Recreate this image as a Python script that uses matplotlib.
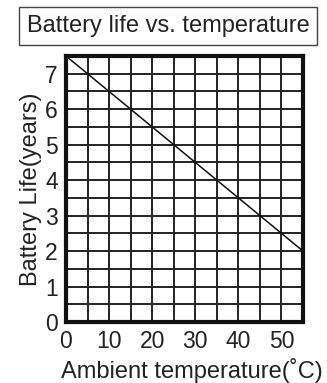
import matplotlib
matplotlib.use("Agg")
import matplotlib.pyplot as plt
import numpy as np

plt.rcParams['font.family'] = ['Liberation Sans', 'DejaVu Sans']

# Battery life as a function of ambient temperature
temperature = [0, 55]
battery_life = [7.5, 2.0]

x_ticks = [0, 10, 20, 30, 40, 50]
y_ticks = [0, 1, 2, 3, 4, 5, 6, 7]

W, H = 327, 383
fig = plt.figure(figsize=(W / 100, H / 100), dpi=100)
ax = fig.add_axes([66 / W, 1 - 322 / H, (303 - 66) / W, (322 - 56) / H])

ax.plot(temperature, battery_life, color='#111111', lw=1.1, zorder=3)

ax.set_xlim(0, 55)
ax.set_ylim(0, 7.5)
ax.set_xticks(x_ticks)
ax.set_yticks(y_ticks)

# fine grid every 5 °C and every half year
for gx in np.arange(5, 55, 5):
    ax.axvline(gx, color='#222222', lw=1.4, zorder=1)
for gy in np.arange(0.5, 7.5, 0.5):
    ax.axhline(gy, color='#222222', lw=1.4, zorder=1)

ax.tick_params(which='both', length=0, labelsize=16.5, pad=6, colors='#222222')

for s in ax.spines.values():
    s.set_linewidth(3)
    s.set_color('#111111')

ax.set_xlabel('Ambient temperature(˚C)', fontsize=17, color='#222222', labelpad=3)
ax.xaxis.set_label_coords(0.53, -0.135)
ax.set_ylabel('Battery Life(years)', fontsize=17, color='#222222', labelpad=2)

fig.text(168 / W, 1 - 26 / H, 'Battery life vs. temperature', fontsize=17,
         ha='center', va='center', color='#222222',
         bbox=dict(boxstyle='square,pad=0.33', fc='white', ec='#444444', lw=1))

fig.savefig('out.png', dpi=100)
